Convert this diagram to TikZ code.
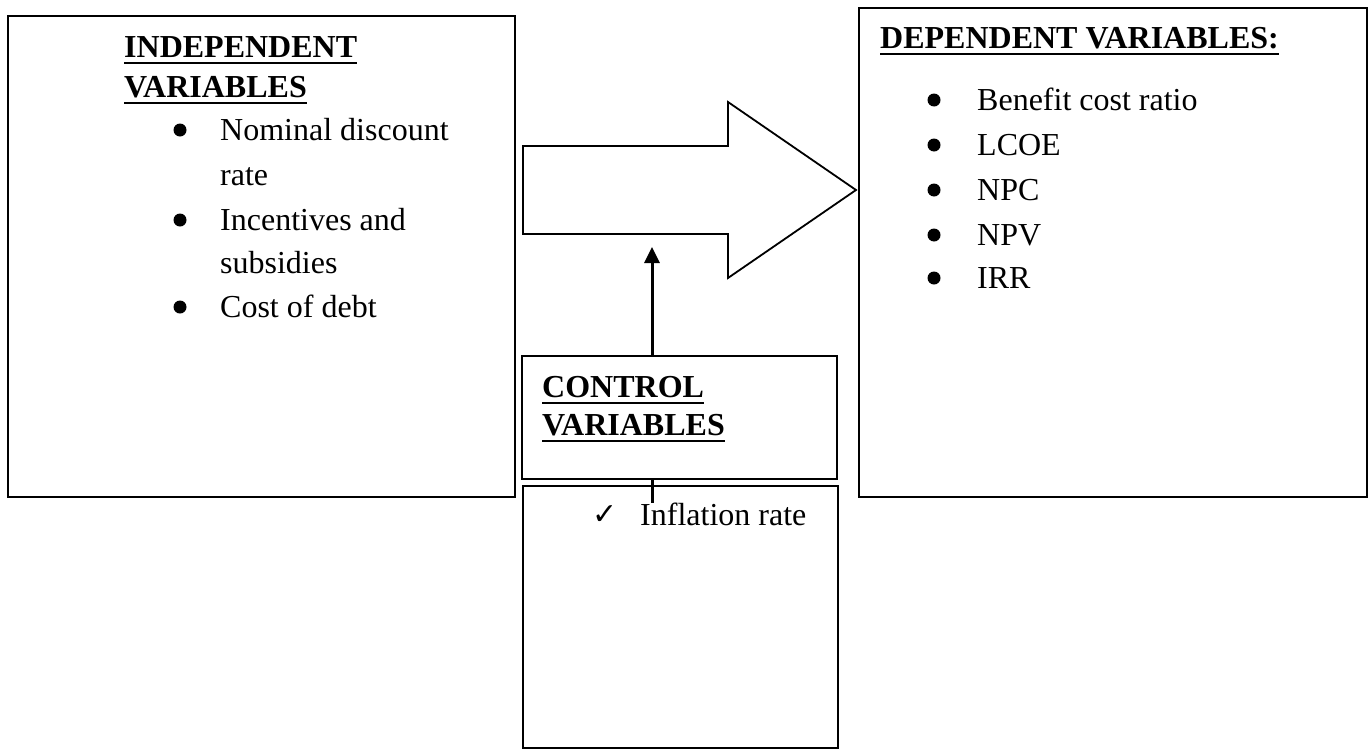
\documentclass[tikz,border=0pt]{standalone}
\usepackage{fontspec}
\setmainfont{Liberation Serif}
\newfontfamily\symfont{DejaVu Sans}
\usetikzlibrary{arrows.meta,calc}
\tikzset{
  box/.style={draw, line width=2pt, rectangle, inner sep=0pt},
  txt/.style={anchor=base west, inner sep=0pt, font=\fontsize{32}{38}\selectfont},
  head/.style={txt, font=\fontsize{32}{38}\selectfont\bfseries},
  bul/.style={fill=black, draw=none},
  ulstyle/.style={line width=2.6pt},
}
\newcommand\ulnode[1]{\draw[ulstyle] ($(#1.base west)+(0,6)$) -- ($(#1.base east)+(0,6)$);}
\begin{document}
\begin{tikzpicture}[x=1pt,y=-1pt]
\useasboundingbox (0,0) rectangle (1370,755);
% boxes
\node[box, minimum width=507pt, minimum height=481pt] (indep) at (261.5,256.5) {};
\node[box, minimum width=508pt, minimum height=489pt] (dep) at (1113,252.5) {};
\node[box, minimum width=315pt, minimum height=123pt] (ctrl) at (679.5,417.5) {};
\node[box, minimum width=315pt, minimum height=262pt] (infl) at (680.5,617) {};
% independent
\node[head] (ih1) at (124,57) {INDEPENDENT};
\node[head] (ih2) at (124,97) {VARIABLES};
\ulnode{ih1}\ulnode{ih2}
\fill[bul] (180,130) circle (6.5);
\node[txt] (i1) at (220,140) {Nominal discount};
\node[txt] (i1b) at (220,185) {rate};
\fill[bul] (180,220) circle (6.5);
\node[txt] (i2) at (220,230) {Incentives and};
\node[txt] (i2b) at (220,273) {subsidies};
\fill[bul] (180,307) circle (6.5);
\node[txt] (i3) at (220,317) {Cost of debt};
% dependent
\node[head] (dh) at (880,48) {DEPENDENT VARIABLES:};
\ulnode{dh}
\foreach \y/\t [count=\k] in {110/Benefit cost ratio,155/LCOE,200/NPC,245/NPV,288/IRR}{
  \fill[bul] (934,\y-10) circle (6.5);
  \node[txt] (d\k) at (977,\y) {\t};
}
% control
\node[head] (ch1) at (542,397) {CONTROL};
\node[head] (ch2) at (542,435) {VARIABLES};
\ulnode{ch1}\ulnode{ch2}
\node[txt, font=\fontsize{30}{34}\symfont] (chk) at (592,524) {✓};
\node[txt] (inf) at (640,525) {Inflation rate};
% big arrow
\coordinate (abl) at (523,146);
\coordinate (atip) at (856,190);
\draw[line width=1.8pt, line join=miter] (abl) -- (728,146) -- (728,102) -- (atip) -- (728,278) -- (728,234) -- (523,234) -- cycle;
% connectors
\coordinate (uptip) at (652,247);
\coordinate (stub) at (652,503);
\draw[line width=3pt, -{Triangle[length=16pt,width=15pt]}] (ctrl.north -| uptip) -- (uptip);
\draw[line width=3pt] (ctrl.south -| stub) -- (stub);
\end{tikzpicture}
\end{document}
